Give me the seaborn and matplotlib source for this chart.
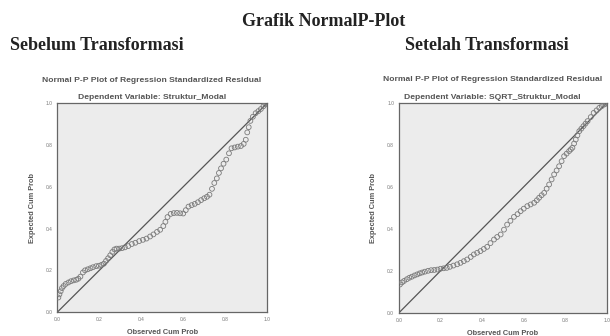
import matplotlib
matplotlib.use("Agg")
import matplotlib.pyplot as plt
import seaborn as sns
import pandas as pd


# data
sebelum_obs = [0.005, 0.010, 0.016, 0.022, 0.030, 0.040, 0.053, 0.065, 0.078, 0.090,
               0.100, 0.110, 0.122, 0.132, 0.145, 0.158, 0.170, 0.185, 0.198, 0.210,
               0.222, 0.232, 0.242, 0.252, 0.262, 0.272, 0.282, 0.295, 0.308, 0.322,
               0.338, 0.355, 0.372, 0.390, 0.408, 0.425, 0.442, 0.458, 0.475, 0.490,
               0.505, 0.515, 0.525, 0.540, 0.555, 0.570, 0.585, 0.600, 0.612, 0.625,
               0.640, 0.655, 0.670, 0.685, 0.700, 0.713, 0.725, 0.737, 0.748, 0.760,
               0.770, 0.780, 0.792, 0.805, 0.818, 0.830, 0.845, 0.860, 0.875, 0.888,
               0.898, 0.905, 0.912, 0.920, 0.932, 0.945, 0.958, 0.970, 0.982, 0.992, 1.0]
sebelum_exp = [0.070, 0.085, 0.100, 0.115, 0.125, 0.135, 0.142, 0.148, 0.152, 0.155,
               0.160, 0.170, 0.190, 0.200, 0.205, 0.210, 0.215, 0.220, 0.222, 0.226,
               0.232, 0.245, 0.258, 0.272, 0.288, 0.300, 0.304, 0.304, 0.306, 0.310,
               0.316, 0.326, 0.332, 0.340, 0.346, 0.352, 0.362, 0.372, 0.384, 0.394,
               0.412, 0.432, 0.455, 0.470, 0.474, 0.475, 0.473, 0.472, 0.488, 0.505,
               0.512, 0.518, 0.526, 0.536, 0.545, 0.552, 0.562, 0.590, 0.618, 0.640,
               0.666, 0.688, 0.710, 0.730, 0.760, 0.784, 0.788, 0.792, 0.795, 0.805,
               0.825, 0.860, 0.885, 0.915, 0.935, 0.952, 0.962, 0.972, 0.985, 0.994, 1.0]

setelah_obs = [0.005, 0.015, 0.025, 0.038, 0.050, 0.062, 0.075, 0.088, 0.100, 0.112,
               0.125, 0.140, 0.155, 0.170, 0.185, 0.200, 0.215, 0.230, 0.245, 0.262,
               0.280, 0.296, 0.312, 0.328, 0.345, 0.360, 0.376, 0.392, 0.408, 0.424,
               0.440, 0.457, 0.472, 0.489, 0.505, 0.520, 0.536, 0.553, 0.570, 0.585,
               0.600, 0.617, 0.633, 0.650, 0.663, 0.674, 0.686, 0.698, 0.710, 0.722,
               0.734, 0.746, 0.758, 0.770, 0.782, 0.794, 0.806, 0.818, 0.826, 0.834,
               0.842, 0.850, 0.858, 0.867, 0.877, 0.887, 0.897, 0.907, 0.922, 0.936,
               0.950, 0.963, 0.975, 0.987, 0.995, 1.0]
setelah_exp = [0.135, 0.145, 0.152, 0.160, 0.167, 0.172, 0.178, 0.183, 0.188, 0.192,
               0.196, 0.200, 0.203, 0.204, 0.206, 0.210, 0.212, 0.214, 0.219, 0.225,
               0.231, 0.238, 0.246, 0.254, 0.266, 0.278, 0.286, 0.294, 0.304, 0.314,
               0.332, 0.349, 0.361, 0.373, 0.396, 0.420, 0.438, 0.457, 0.470, 0.484,
               0.496, 0.508, 0.516, 0.524, 0.536, 0.548, 0.560, 0.571, 0.591, 0.611,
               0.635, 0.659, 0.678, 0.698, 0.722, 0.746, 0.758, 0.770, 0.778, 0.786,
               0.806, 0.825, 0.845, 0.865, 0.877, 0.889, 0.901, 0.913, 0.932, 0.952,
               0.964, 0.976, 0.984, 0.992, 0.996, 1.0]

tick_vals = [0.0, 0.2, 0.4, 0.6, 0.8, 1.0]
tick_labels = ["0.0", "0.2", "0.4", "0.6", "0.8", "1.0"]

panels = [
    ("Sebelum Transformasi", "Dependent Variable: Struktur_Modal", sebelum_obs, sebelum_exp),
    ("Setelah Transformasi", "Dependent Variable: SQRT_Struktur_Modal", setelah_obs, setelah_exp),
]

sns.set_theme(style="white")
plt.rcParams["font.family"] = ["Liberation Sans", "DejaVu Sans"]

fig = plt.figure(figsize=(6.1, 3.36), dpi=100)
fig.patch.set_facecolor("white")

axes_pos = [[0.094, 0.071, 0.344, 0.622], [0.654, 0.069, 0.341, 0.625]]
heading_x = [0.016, 0.664]

for i, (heading, dep, obs, exp) in enumerate(panels):
    ax = fig.add_axes(axes_pos[i])
    ax.set_facecolor("#ececec")
    df = pd.DataFrame({"obs": obs, "exp": exp})
    ax.plot([0, 1], [0, 1], color="#555555", lw=0.9, zorder=2)
    sns.scatterplot(data=df, x="obs", y="exp", ax=ax, marker="o", s=12,
                    facecolor="none", edgecolor="#7a7a7a", linewidth=0.6, zorder=3)
    ax.set_xlim(0, 1)
    ax.set_ylim(0, 1)
    ax.set_xticks(tick_vals)
    ax.set_yticks(tick_vals)
    ax.set_xticklabels(tick_labels)
    ax.set_yticklabels(tick_labels)
    ax.tick_params(labelsize=3.5, colors="#777777", length=2, width=0.5, pad=1.5, direction="out")
    for s in ax.spines.values():
        s.set_color("#666666")
        s.set_linewidth(0.9)
    ax.set_xlabel("Observed Cum Prob", fontsize=5.3, fontweight="bold", color="#555555", labelpad=5)
    ax.set_ylabel("Expected Cum Prob", fontsize=5.3, fontweight="bold", color="#555555", labelpad=7)
    ax.set_title(dep, fontsize=6.1, fontweight="bold", color="#555555", pad=3, x=0.45)
    ax.text(0.45, 1.11, "Normal P-P Plot of Regression Standardized Residual",
            transform=ax.transAxes, ha="center", va="center",
            fontsize=6.1, fontweight="bold", color="#555555")

    fig.text(heading_x[i], 0.865, heading, fontsize=13, fontweight="bold",
             family=["Liberation Serif"], color="#222222", va="center", ha="left")

fig.text(0.53, 0.935, "Grafik NormalP-Plot", fontsize=13, fontweight="bold",
         family=["Liberation Serif"], color="#222222", va="center", ha="center")

fig.savefig("out.png", dpi=100)
